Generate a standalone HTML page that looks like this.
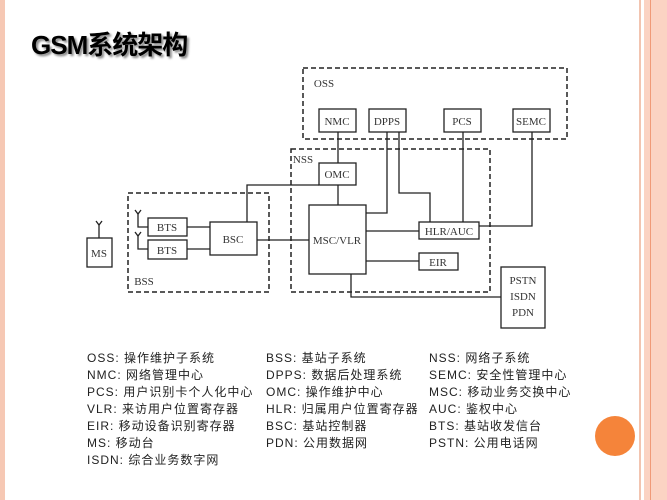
<!DOCTYPE html>
<html><head><meta charset="utf-8"><style>
body{margin:0;width:667px;height:500px;background:#fff;position:relative;overflow:hidden;font-family:"Liberation Sans","Noto Sans CJK SC",sans-serif}
.t{position:absolute;left:31px;top:25px;font-size:26px;font-weight:bold;color:#000;text-shadow:2px 2px 2px #888;letter-spacing:-1px}
.lg{position:absolute;font-size:12px;color:#222;white-space:nowrap;letter-spacing:1px}
</style></head><body>
<div style="position:absolute;left:0;top:0;width:5px;height:500px;background:#f6c8b4"></div>
<div style="position:absolute;left:639px;top:0;width:2px;height:500px;background:#f2c4b0"></div>
<div style="position:absolute;left:644px;top:0;width:23px;height:500px;background:#fbd3c3"></div>
<div style="position:absolute;left:650px;top:0;width:1px;height:500px;background:#f09a78"></div>
<div style="position:absolute;left:595px;top:416px;width:40px;height:40px;border-radius:50%;background:#f5843a"></div>
<div class="t">GSM系统架构</div>
<svg width="667" height="500" style="position:absolute;left:0;top:0" font-family="Liberation Serif, serif" font-size="11">
<g fill="none" stroke="#222" stroke-width="1.5" stroke-dasharray="5,3">
<rect x="303" y="68" width="264" height="71"/>
<rect x="291" y="149" width="199" height="143"/>
<rect x="128" y="193" width="141" height="99"/>
</g>
<g fill="none" stroke="#222" stroke-width="1.3">
<rect x="319" y="109" width="37" height="23"/>
<rect x="369" y="109" width="37" height="23"/>
<rect x="444" y="109" width="37" height="23"/>
<rect x="513" y="109" width="37" height="23"/>
<rect x="319" y="163" width="37" height="22"/>
<rect x="87" y="238" width="25" height="29"/>
<rect x="148" y="218" width="39" height="18"/>
<rect x="148" y="240" width="39" height="19"/>
<rect x="210" y="222" width="47" height="33"/>
<rect x="309" y="205" width="57" height="69"/>
<rect x="419" y="222" width="60" height="17"/>
<rect x="419" y="253" width="39" height="17"/>
<rect x="501" y="267" width="44" height="61"/>
<polyline points="338,132 338,163"/>
<polyline points="338,185 338,205"/>
<polyline points="319,185 247,185 247,222"/>
<polyline points="387,132 387,213 366,213"/>
<polyline points="399,132 399,193 430,193 430,222"/>
<polyline points="463,132 463,222"/>
<polyline points="532,132 532,226 479,226"/>
<polyline points="366,231 419,231"/>
<polyline points="366,261 419,261"/>
<polyline points="257,240 309,240"/>
<polyline points="187,227 210,227"/>
<polyline points="187,249 210,249"/>
<polyline points="351,274 351,297 501,297"/>
<polyline points="99,238 99,224"/>
<polyline points="138,213 138,227 148,227"/>
<polyline points="135,210 138,214 141,210"/>
<polyline points="138,235 138,249 148,249"/>
<polyline points="135,232 138,236 141,232"/>
<polyline points="96,221 99,225 102,221"/>
</g>
<g fill="#333" text-anchor="middle">
<text x="337" y="125">NMC</text><text x="387" y="125">DPPS</text><text x="462" y="125">PCS</text><text x="531" y="125">SEMC</text>
<text x="337" y="178">OMC</text><text x="99" y="257">MS</text>
<text x="167" y="231">BTS</text><text x="167" y="254">BTS</text><text x="233" y="243">BSC</text>
<text x="337" y="244">MSC/VLR</text><text x="449" y="235">HLR/AUC</text><text x="438" y="266">EIR</text>
<text x="523" y="284">PSTN</text><text x="523" y="300">ISDN</text><text x="523" y="316">PDN</text>
<text x="324" y="87">OSS</text><text x="303" y="163">NSS</text><text x="144" y="285">BSS</text>
</g>
</svg>
<div class="lg" style="left:87px;top:349px">OSS: 操作维护子系统</div>
<div class="lg" style="left:266px;top:349px">BSS: 基站子系统</div>
<div class="lg" style="left:429px;top:349px">NSS: 网络子系统</div>
<div class="lg" style="left:87px;top:366px">NMC: 网络管理中心</div>
<div class="lg" style="left:266px;top:366px">DPPS: 数据后处理系统</div>
<div class="lg" style="left:429px;top:366px">SEMC: 安全性管理中心</div>
<div class="lg" style="left:87px;top:383px">PCS: 用户识别卡个人化中心</div>
<div class="lg" style="left:266px;top:383px">OMC: 操作维护中心</div>
<div class="lg" style="left:429px;top:383px">MSC: 移动业务交换中心</div>
<div class="lg" style="left:87px;top:400px">VLR: 来访用户位置寄存器</div>
<div class="lg" style="left:266px;top:400px">HLR: 归属用户位置寄存器</div>
<div class="lg" style="left:429px;top:400px">AUC: 鉴权中心</div>
<div class="lg" style="left:87px;top:417px">EIR: 移动设备识别寄存器</div>
<div class="lg" style="left:266px;top:417px">BSC: 基站控制器</div>
<div class="lg" style="left:429px;top:417px">BTS: 基站收发信台</div>
<div class="lg" style="left:87px;top:434px">MS: 移动台</div>
<div class="lg" style="left:266px;top:434px">PDN: 公用数据网</div>
<div class="lg" style="left:429px;top:434px">PSTN: 公用电话网</div>
<div class="lg" style="left:87px;top:451px">ISDN: 综合业务数字网</div>
</body></html>
